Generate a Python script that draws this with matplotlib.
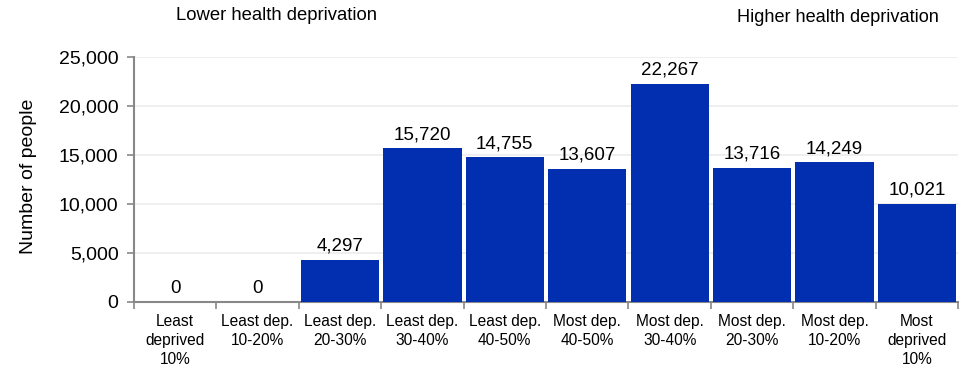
import matplotlib
matplotlib.use("Agg")
import matplotlib.pyplot as plt

categories = ["Least\ndeprived\n10%", "Least dep.\n10-20%", "Least dep.\n20-30%",
              "Least dep.\n30-40%", "Least dep.\n40-50%", "Most dep.\n40-50%",
              "Most dep.\n30-40%", "Most dep.\n20-30%", "Most dep.\n10-20%",
              "Most\ndeprived\n10%"]
people = [0, 0, 4297, 15720, 14755, 13607, 22267, 13716, 14249, 10021]
yticks = [0, 5000, 10000, 15000, 20000, 25000]

plt.rcParams['font.family'] = ['Liberation Sans', 'DejaVu Sans']

fig = plt.figure(figsize=(9.63, 3.66), dpi=100)
ax = fig.add_axes([0.139, 0.175, 0.856, 0.669])

x = list(range(len(categories)))
bars = ax.bar(x, people, width=0.95, color='#022fb0', zorder=3)

for xi, v in zip(x, people):
    ax.text(xi, v + 500, f"{v:,}", ha='center', va='bottom', fontsize=13.5, color='black')

ax.set_xlim(-0.5, len(categories) - 0.5)
ax.set_ylim(0, 25000)
ax.set_yticks(yticks)
ax.set_yticklabels([f"{t:,}" for t in yticks], fontsize=14)
ax.set_xticks(x)
ax.set_xticklabels(categories, fontsize=11.2, linespacing=1.3)
ax.tick_params(axis='x', length=0, pad=9)
# boundary ticks between categories
ax.set_xticks([i - 0.5 for i in range(len(categories) + 1)], minor=True)
ax.tick_params(axis='x', which='minor', length=5, color='#888888', width=1.2)
ax.tick_params(axis='y', length=5, color='#888888', width=1.2, pad=6)

ax.grid(axis='y', color='#ececec', linewidth=1.2, zorder=0)
for side in ['top', 'right']:
    ax.spines[side].set_visible(False)
for side in ['left', 'bottom']:
    ax.spines[side].set_color('#888888')
    ax.spines[side].set_linewidth(1.5)

ax.set_ylabel("Number of people", fontsize=14)
ax.yaxis.set_label_coords(-0.118, 0.512)

fig.text(277 / 963, 1 - 16 / 366, "Lower health deprivation", ha='center', va='center', fontsize=13.3)
fig.text(838 / 963, 1 - 17 / 366, "Higher health deprivation", ha='center', va='center', fontsize=13.1)

fig.savefig("out.png", dpi=100)
